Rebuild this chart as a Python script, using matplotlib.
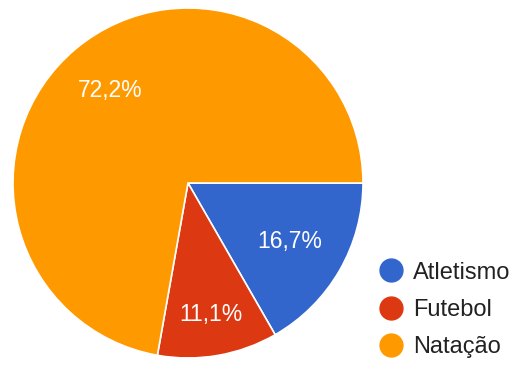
import numpy as np
import matplotlib
matplotlib.use("Agg")
import matplotlib.pyplot as plt
from matplotlib.lines import Line2D

plt.rcParams["font.family"] = ["Liberation Sans", "DejaVu Sans"]

# Survey answers: favourite sport
categories = ["Atletismo", "Futebol", "Natação"]
shares = [16.7, 11.1, 72.2]
colors = ["#3366cc", "#dc3912", "#ff9900"]
# how far from the centre each percentage sits (fraction of radius)
label_dist = [0.67, 0.76, 0.69]

W, H = 513, 365
fig = plt.figure(figsize=(W / 100, H / 100), dpi=100)

# pie occupies a square box on the left side
cx, cy, r = 188, 183, 175
ax = fig.add_axes([(cx - r) / W, (H - cy - r) / H, 2 * r / W, 2 * r / H])
wedges, _ = ax.pie(
    shares,
    colors=colors,
    startangle=0,
    counterclock=False,
    wedgeprops=dict(edgecolor="white", linewidth=1.2),
)
ax.set_xlim(-1, 1)
ax.set_ylim(-1, 1)
ax.set_aspect("equal")
ax.axis("off")

for w, val, d in zip(wedges, shares, label_dist):
    mid = np.deg2rad((w.theta1 + w.theta2) / 2)
    ax.text(d * np.cos(mid), d * np.sin(mid), f"{val:.1f}%".replace(".", ","),
            ha="center", va="center", color="white", fontsize=16.5)

handles = [Line2D([], [], marker="o", linestyle="none", markersize=16.5,
                  markerfacecolor=c, markeredgecolor=c) for c in colors]
fig.legend(handles, categories, loc="center left",
           bbox_to_anchor=(380 / W, 1 - 310 / H), frameon=False,
           fontsize=17, handletextpad=0.45, labelspacing=0.65,
           handlelength=0.95, borderpad=0, borderaxespad=0,
           labelcolor="#222222")

fig.savefig("out.png", dpi=100, facecolor="white")
